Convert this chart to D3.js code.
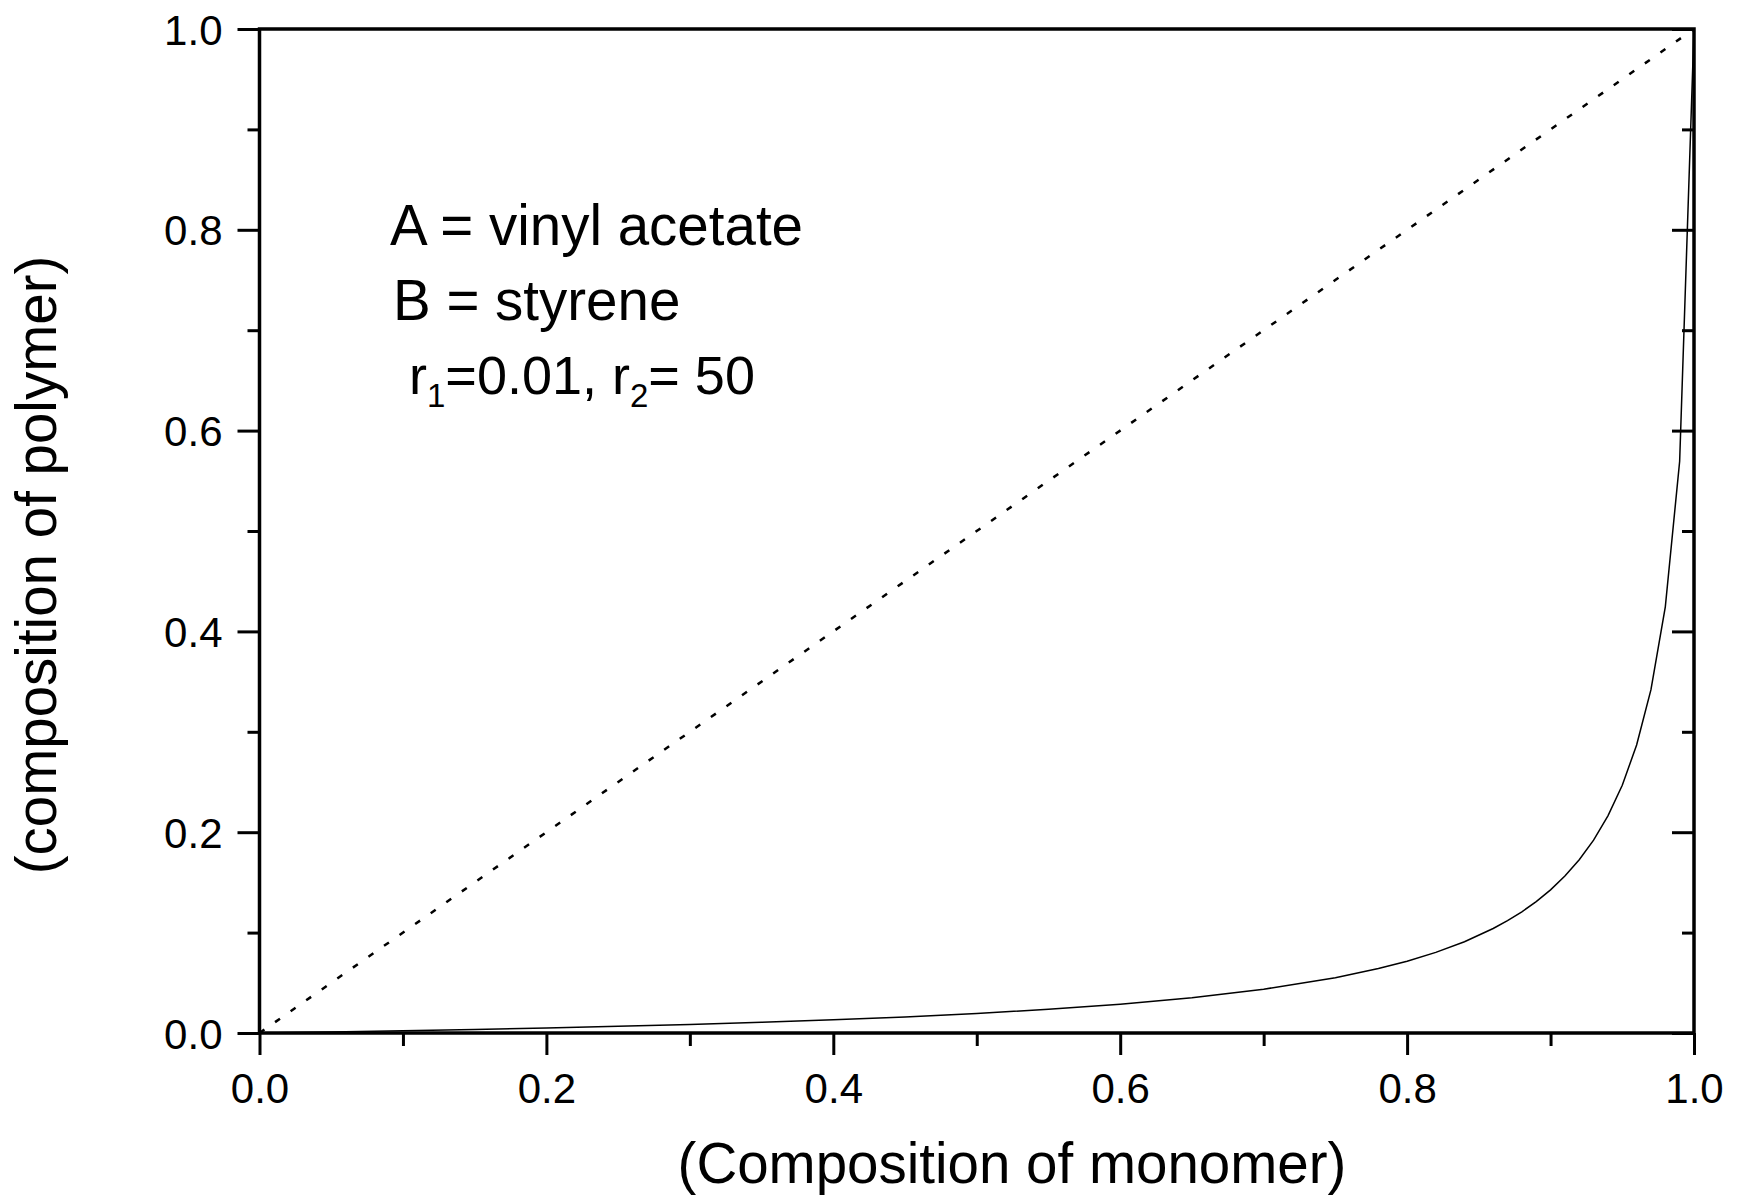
<!DOCTYPE html>
<html>
<head>
<meta charset="utf-8">
<script src="https://cdn.jsdelivr.net/npm/d3@7"></script>
<style>
  body { margin: 0; background: #fff; }
  text { font-family: "Liberation Sans", Arial, sans-serif; fill: #000; }
</style>
</head>
<body>
<script>
// monomer feed fraction vs copolymer fraction
const monomer = [0, 0.05, 0.10, 0.15, 0.20, 0.25, 0.30, 0.35, 0.40, 0.45, 0.50,
  0.55, 0.60, 0.65, 0.70, 0.75, 0.78, 0.80, 0.82, 0.84, 0.86, 0.87, 0.88, 0.89, 0.90,
  0.91, 0.92, 0.93, 0.94, 0.95, 0.96, 0.97, 0.98, 0.99, 1.00];
const polymer = [0, 0.0011, 0.0022, 0.0035, 0.0050, 0.0066, 0.0085, 0.0106, 0.0131, 0.0160, 0.0194,
  0.0236, 0.0287, 0.0352, 0.0436, 0.0551, 0.0642, 0.0715, 0.0803, 0.0909, 0.1041, 0.1119, 0.1207, 0.1309, 0.1426,
  0.1563, 0.1725, 0.1921, 0.2163, 0.2468, 0.2868, 0.3420, 0.4245, 0.5694, 1.0];
const diagonal = [0, 1];
const majorTicks = [0, 0.2, 0.4, 0.6, 0.8, 1.0];
const minorTicks = [0.1, 0.3, 0.5, 0.7, 0.9];
const notes = ["A = vinyl acetate", "B = styrene"];

const W = 1737, H = 1200;
const m = {left: 259.5, right: 43, top: 29, bottom: 167};
const w = W - m.left - m.right, h = H - m.top - m.bottom;

const svg = d3.select("body").append("svg")
  .attr("width", W).attr("height", H);
const g = svg.append("g").attr("transform", `translate(${m.left},${m.top})`);

const x = d3.scaleLinear().domain([0, 1]).range([0, w]);
const y = d3.scaleLinear().domain([0, 1]).range([h, 0]);
const fmt = d3.format(".1f");

function styleAxis(sel) {
  sel.select(".domain").remove();
  sel.selectAll("line").attr("stroke", "#000").attr("stroke-width", 3);
  sel.selectAll("text").style("font-size", "42px").attr("fill", "#000");
}

// bottom + left: outward ticks with labels
g.append("g").attr("transform", `translate(0,${h})`)
  .call(d3.axisBottom(x).tickValues(majorTicks).tickSize(22).tickPadding(14).tickFormat(fmt))
  .call(styleAxis)
  .call(s => s.selectAll("text").attr("dy", null).attr("y", 70));
g.append("g").attr("transform", `translate(0,${h})`)
  .call(d3.axisBottom(x).tickValues(minorTicks).tickSize(13).tickFormat(""))
  .call(styleAxis);
g.append("g")
  .call(d3.axisLeft(y).tickValues(majorTicks).tickSize(22).tickPadding(15).tickFormat(fmt))
  .call(styleAxis)
  .call(s => s.selectAll("text").attr("dy", "0.36em"));
g.append("g")
  .call(d3.axisLeft(y).tickValues(minorTicks).tickSize(12).tickFormat(""))
  .call(styleAxis);

// right: inward ticks, no labels
g.append("g").attr("transform", `translate(${w},0)`)
  .call(d3.axisRight(y).tickValues(majorTicks).tickSize(-22).tickFormat(""))
  .call(styleAxis);
g.append("g").attr("transform", `translate(${w},0)`)
  .call(d3.axisRight(y).tickValues(minorTicks).tickSize(-12).tickFormat(""))
  .call(styleAxis);

// frame
g.append("rect").attr("width", w).attr("height", h)
  .attr("fill", "none").attr("stroke", "#000").attr("stroke-width", 3.5);

// dotted x = y reference line
g.append("path")
  .datum(diagonal)
  .attr("d", d3.line().x(d => x(d)).y(d => y(d)))
  .attr("fill", "none").attr("stroke", "#000")
  .attr("stroke-width", 2.5).attr("stroke-dasharray", "6,13");

// composition curve
g.append("path")
  .datum(d3.zip(monomer, polymer))
  .attr("d", d3.line().x(d => x(d[0])).y(d => y(d[1])))
  .attr("fill", "none").attr("stroke", "#000").attr("stroke-width", 1.5);

// annotation
const ann = svg.append("g").style("font-size", "56.5px");
ann.append("text").attr("x", 390).attr("y", 245).text(notes[0]);
ann.append("text").attr("x", 393).attr("y", 320).text(notes[1]);
const r = ann.append("text").attr("x", 409).attr("y", 394).style("font-size", "54px");
r.append("tspan").text("r");
r.append("tspan").attr("dy", 13).style("font-size", "33px").text("1");
r.append("tspan").attr("dy", -13).text("=0.01, r");
r.append("tspan").attr("dy", 13).style("font-size", "33px").text("2");
r.append("tspan").attr("dy", -13).text("= 50");

// axis titles
svg.append("text")
  .attr("x", 1012).attr("y", 1183)
  .attr("text-anchor", "middle").style("font-size", "56.5px")
  .text("(Composition of monomer)");
svg.append("text")
  .attr("transform", "translate(56,565) rotate(-90)")
  .attr("text-anchor", "middle").style("font-size", "56.5px")
  .text("(composition of polymer)");
</script>
</body>
</html>
